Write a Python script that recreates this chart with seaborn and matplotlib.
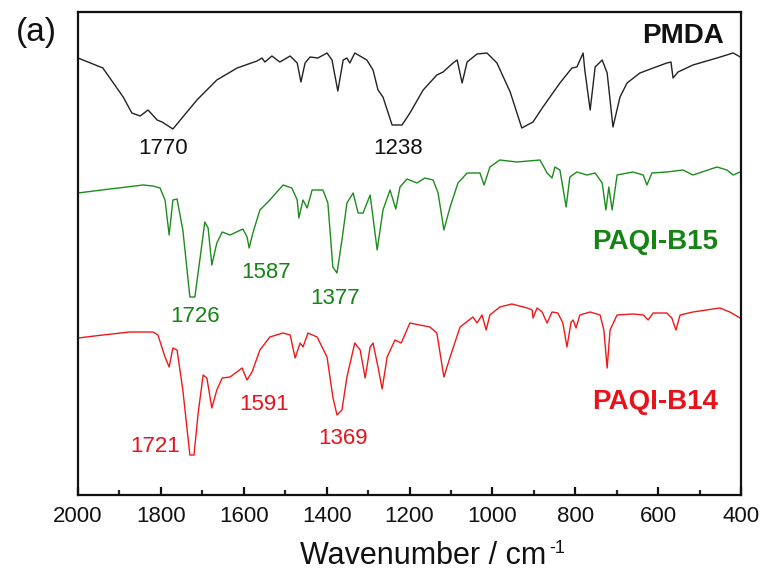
import numpy as np
import pandas as pd
import matplotlib
matplotlib.use("Agg")
import matplotlib.pyplot as plt
import seaborn as sns
from matplotlib.ticker import MultipleLocator

# ---------------- data (wavenumber, stacked intensity a.u.) ----------------
pmda_wn = [2000, 1940, 1891, 1870, 1850, 1831, 1809, 1797, 1771, 1747, 1713, 1665, 1616, 1568,
           1556, 1549, 1532, 1513, 1488, 1471, 1462, 1452, 1440, 1421, 1399, 1387, 1373, 1360,
           1351, 1344, 1332, 1303, 1288, 1276, 1264, 1242, 1218, 1199, 1167, 1134, 1119, 1095,
           1085, 1073, 1061, 1037, 1013, 989, 957, 929, 902, 878, 837, 808, 796, 781, 777, 764,
           752, 735, 723, 709, 692, 675, 644, 612, 579, 569, 564, 552, 516, 458, 419, 410, 402]
pmda_y = [437, 427, 398, 382, 379, 385, 375, 373, 366, 378, 395, 415, 427, 434,
          437, 433, 439, 433, 439, 432, 413, 432, 438, 437, 442, 435, 404, 435,
          437, 432, 442, 435, 425, 405, 398, 370, 370, 382, 405, 420, 423, 432,
          435, 412, 433, 441, 442, 432, 403, 367, 373, 388, 412, 427, 428, 442, 425, 385,
          428, 435, 422, 368, 398, 412, 422, 427, 432, 433, 417, 423, 430, 437, 442, 440, 438]

b15_wn = [2000, 1923, 1843, 1819, 1802, 1790, 1780, 1771, 1761, 1747, 1730, 1718, 1706, 1694,
          1686, 1677, 1665, 1652, 1633, 1602, 1592, 1587, 1578, 1561, 1537, 1505, 1484, 1471,
          1467, 1457, 1447, 1435, 1409, 1397, 1385, 1375, 1363, 1351, 1336, 1324, 1312, 1295,
          1278, 1264, 1247, 1233, 1223, 1206, 1182, 1163, 1143, 1131, 1117, 1102, 1083, 1061,
          1030, 1020, 1006, 982, 941, 885, 868, 856, 849, 837, 822, 813, 796, 772, 752, 735,
          726, 719, 711, 699, 661, 636, 627, 615, 579, 540, 516, 458, 434, 419, 402]
b15_y = [302, 306, 310, 309, 307, 295, 260, 295, 296, 265, 198, 198, 235, 273,
         267, 230, 252, 263, 260, 266, 258, 247, 262, 285, 295, 310, 307, 295,
         277, 295, 287, 305, 305, 292, 228, 222, 255, 292, 302, 282, 282, 300,
         245, 285, 305, 286, 308, 316, 312, 317, 315, 302, 265, 288, 312, 322,
         322, 310, 328, 335, 333, 335, 322, 317, 328, 325, 288, 318, 323, 320, 322, 312,
         285, 308, 285, 320, 323, 320, 310, 322, 323, 325, 320, 328, 325, 320, 323]

b14_wn = [2000, 1940, 1875, 1819, 1807, 1790, 1780, 1771, 1761, 1747, 1730, 1720, 1710, 1698,
          1689, 1677, 1665, 1652, 1633, 1604, 1592, 1580, 1561, 1537, 1505, 1488, 1476, 1464,
          1457, 1445, 1423, 1399, 1385, 1375, 1363, 1351, 1332, 1319, 1307, 1295, 1288, 1276,
          1266, 1254, 1235, 1220, 1199, 1175, 1151, 1134, 1117, 1102, 1078, 1047, 1037, 1025,
          1015, 1006, 982, 953, 916, 904, 902, 892, 880, 868, 856, 842, 830, 820, 810, 805,
          798, 789, 764, 740, 731, 723, 716, 699, 661, 636, 624, 612, 579, 567, 557, 547,
          516, 451, 427, 402]
b14_y = [157, 160, 163, 163, 160, 138, 128, 147, 145, 105, 40, 40, 82, 120,
         117, 87, 105, 117, 118, 127, 115, 123, 145, 158, 162, 160, 137, 152,
         148, 162, 158, 138, 98, 80, 85, 118, 152, 145, 117, 148, 152, 128,
         106, 138, 155, 152, 172, 170, 168, 162, 118, 138, 168, 178, 172, 180,
         165, 180, 188, 191, 187, 185, 177, 187, 183, 172, 183, 182, 172, 148, 173, 175,
         167, 180, 183, 180, 165, 127, 165, 180, 181, 180, 175, 182, 182, 177, 165, 180,
         183, 187, 183, 177]

series_names = ["PMDA", "PAQI-B15", "PAQI-B14"]
series_colors = ["#222222", "#1c8c1c", "#f01818"]
label_colors = ["#111111", "#148414", "#e8121a"]

peak_labels = [("1770", 1795, 347, 0), ("1238", 1228, 347, 0),
               ("1726", 1718, 178, 1), ("1587", 1546, 222, 1), ("1377", 1380, 197, 1),
               ("1721", 1814, 48, 2), ("1591", 1551, 90, 2), ("1369", 1360, 57, 2)]
name_pos = [(540, 459), (607, 253), (607, 93)]

# ---------------- figure ----------------
sns.set_style("ticks")
plt.rcParams["font.family"] = ["Liberation Sans", "DejaVu Sans"]

W, H = 764, 572
fig = plt.figure(figsize=(W / 100, H / 100), dpi=100)
ax = fig.add_axes([78 / W, 1 - 495 / H, (741 - 78) / W, (495 - 12) / H])

frames = []
for name, wn, y in [(series_names[0], pmda_wn, pmda_y),
                    (series_names[1], b15_wn, b15_y),
                    (series_names[2], b14_wn, b14_y)]:
    frames.append(pd.DataFrame({"wn": wn, "y": y, "sample": name}))
df = pd.concat(frames, ignore_index=True)

sns.lineplot(data=df, x="wn", y="y", hue="sample", palette=dict(zip(series_names, series_colors)),
             sort=False, estimator=None, linewidth=1.0, legend=False, ax=ax)

ax.set_xlim(2000, 400)
ax.set_ylim(0, 483)
ax.set_yticks([])
ax.set_ylabel("")
ax.xaxis.set_major_locator(MultipleLocator(200))
ax.xaxis.set_minor_locator(MultipleLocator(100))
ax.tick_params(axis="x", which="major", direction="in", length=6, width=1.6,
               labelsize=16, pad=8, colors="#111111")
ax.tick_params(axis="x", which="minor", direction="in", length=3.5, width=1.6)
for sp in ax.spines.values():
    sp.set_linewidth(1.6)
    sp.set_color("#111111")
    sp.set_visible(True)

# x label: main text + superscript "-1"
ax.set_xlabel("Wavenumber / cm", fontsize=22, color="#111111")
ax.xaxis.set_label_coords((423 - 78) / 663, -(564 - 495) / 483)
ax.xaxis.label.set_va("baseline")
ax.xaxis.label.set_ha("center")

for txt, x, y, idx in peak_labels:
    ax.text(x, y, txt, color=label_colors[idx], fontsize=16, ha="center", va="center")
for (x, y), name, c in zip(name_pos, series_names, label_colors):
    ax.text(x, y, name, color=c, fontsize=20, fontweight="bold", ha="center", va="center")

fig.text(36 / W, 1 - 33 / H, "(a)", fontsize=24, ha="center", va="center", color="#111111")

fig.canvas.draw()
bb = ax.xaxis.label.get_window_extent(fig.canvas.get_renderer())
fig.text((bb.x1 + 3) / W, 1 - 553 / H, "-1", fontsize=13, ha="left", va="baseline",
         color="#111111")

fig.savefig("out.png", dpi=100)
